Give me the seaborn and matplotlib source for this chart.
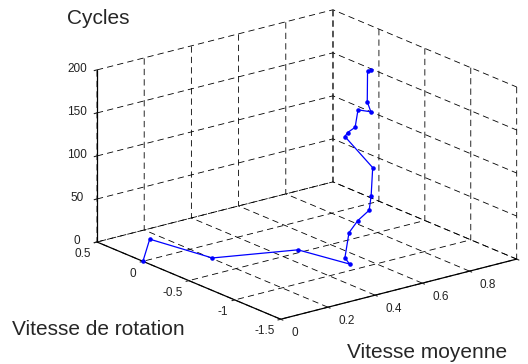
import numpy as np
import matplotlib
matplotlib.use("Agg")
import matplotlib.pyplot as plt
import seaborn as sns

# data (x: vitesse moyenne, y: vitesse de rotation, z: cycles)
vitesse_moyenne = [0.0, 0.13, 0.15, 0.40, 0.42, 0.42, 0.48, 0.51, 0.55, 0.57,
                   0.60, 0.56, 0.56, 0.58, 0.60, 0.60, 0.61, 0.73, 0.72]
vitesse_rotation = [0.0, 0.26, -0.37, -0.66, -1.17, -1.12, -1.01, -1.03, -1.05, -1.02,
                    -0.96, -0.76, -0.79, -0.82, -0.80, -0.94, -0.875, -0.57, -0.63]
cycles = [0, 5, 10, 15, 20, 25, 45, 58, 68, 82,
          110, 140, 146, 152, 170, 174, 182, 196, 200]

x_ticks = [0, 0.2, 0.4, 0.6, 0.8, 1]
y_ticks = [-1.5, -1, -0.5, 0, 0.5]
z_ticks = [0, 50, 100, 150, 200]

sns.set_style('white')
plt.rcParams.update({
    'grid.color': 'black',
    'grid.linestyle': '--',
    'grid.linewidth': 0.6,
    'lines.scale_dashes': False,
    'lines.dashed_pattern': [4.5, 3.0],
    'xtick.labelsize': 8.5,
    'ytick.labelsize': 8.5,
    'axes.edgecolor': 'black',
})
plt.rcParams['font.family'] = ['Liberation Sans', 'DejaVu Sans']

W, H = 528, 364
fig = plt.figure(figsize=(W / 100, H / 100), dpi=100)
ax = fig.add_axes([0.1, 0.05, 0.8, 0.9], projection='3d', proj_type='ortho')
ax.view_init(elev=19.1, azim=-127.9)
ax.set_box_aspect((1, 1, 0.609))

ax.plot(vitesse_moyenne, vitesse_rotation, cycles, '.-', color='#0000ff',
        lw=0.9, ms=4.5)

ax.set_xlim(0, 1)
ax.set_ylim(-1.5, 0.5)
ax.set_zlim(0, 200)
ax.set_xticks(x_ticks)
ax.set_yticks(y_ticks)
ax.set_zticks(z_ticks)
ax.set_xticklabels(['0', '0.2', '0.4', '0.6', '0.8', '1'])
ax.set_yticklabels(['-1.5', '-1', '-0.5', '0', '0.5'])
ax.set_zticklabels([str(v) for v in z_ticks])
ax.tick_params(labelsize=8.5, colors='#222222')
ax.tick_params(axis='x', pad=1.5)
ax.tick_params(axis='y', pad=-3.5)
ax.tick_params(axis='z', pad=0)
for lab in ax.get_xticklabels():
    lab.set_ha('left')
    lab.set_va('center')
for lab in ax.get_yticklabels():
    lab.set_ha('right')
for lab in ax.get_zticklabels():
    lab.set_va('center')

for axis in (ax.xaxis, ax.yaxis, ax.zaxis):
    axis.set_pane_color((1, 1, 1, 0))
    axis.pane.set_edgecolor((1, 1, 1, 0))
    axis.line.set_color('black')
    axis.line.set_linewidth(0.9)
    axis._axinfo['tick']['inward_factor'] = 0.15
    axis._axinfo['tick']['outward_factor'] = 0.0
ax.grid(True)


def to_px(x, y, z):
    v = ax.get_proj() @ np.array([x, y, z, 1.0])
    return ax.transData.transform((v[0] / v[3], v[1] / v[3]))


# place the box so its corners land where they are in the reference
target_a = np.array([97.0, H - 242.0])   # (0, 0.5, 0)
target_b = np.array([516.7, H - 259.3])  # (1, -1.5, 0)
for _ in range(3):
    fig.canvas.draw()
    bb = ax.bbox
    pa = to_px(0, 0.5, 0)
    pb = to_px(1, -1.5, 0)
    s = (target_b[0] - target_a[0]) / (pb[0] - pa[0])
    ra = (pa - np.array([bb.x0, bb.y0])) / np.array([bb.width, bb.height])
    nw, nh = bb.width * s, bb.height * s
    x0 = target_a[0] - ra[0] * nw
    y0 = target_a[1] - ra[1] * nh
    ax.set_position([x0 / W, y0 / H, nw / W, nh / H])

fig.text(67 / W, 1 - 24 / H, 'Cycles', fontsize=15, ha='left', va='baseline')
fig.text(12 / W, 1 - 335 / H, 'Vitesse de rotation', fontsize=15,
         ha='left', va='baseline')
fig.text(347 / W, 1 - 358 / H, 'Vitesse moyenne', fontsize=15,
         ha='left', va='baseline')

fig.savefig('out.png', dpi=100)
